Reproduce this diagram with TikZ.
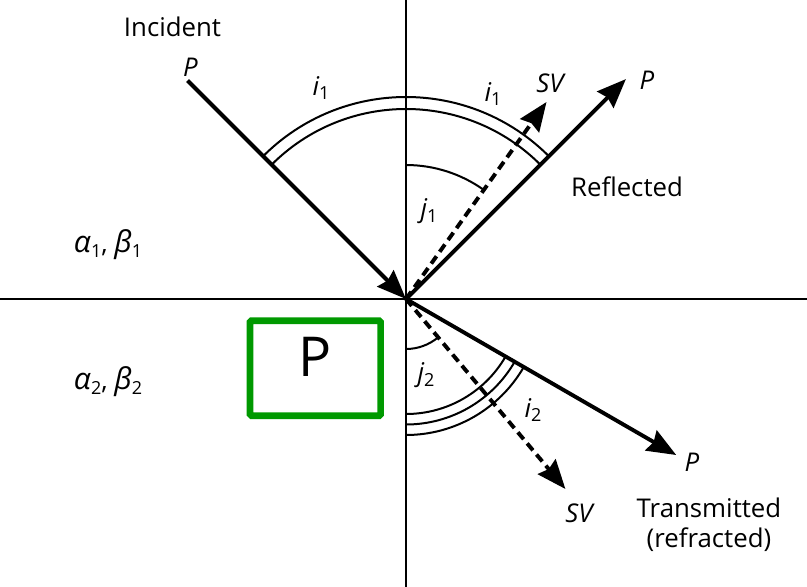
\documentclass[tikz,border=0pt]{standalone}
\usepackage{fontspec}
\setmainfont{Open Sans}
\usetikzlibrary{arrows.meta}
\definecolor{boxgreen}{RGB}{0,153,0}
\newcommand\lowidx[1]{\raisebox{-0.35ex}{\fontsize{18}{18}\selectfont #1}}
\newcommand\grk[1]{{\fontsize{30}{30}\selectfont\itshape #1}}
\begin{document}
\begin{tikzpicture}[x=1pt,y=1pt,
  axisline/.style={line width=1.8pt},
  ray/.style={line width=3.9pt,-{Stealth[length=29pt,width=23pt,inset=3pt]}},
  sray/.style={ray,dash pattern=on 9pt off 5.5pt},
  arcline/.style={line width=2pt},
  lbl/.style={font=\fontsize{25.8}{30}\selectfont, inner sep=0pt},
]
\useasboundingbox (0,0) rectangle (807,-587);

% axes
\coordinate (O) at (406,-299);
\coordinate (top) at (406,0);
\coordinate (bot) at (406,-587);
\coordinate (left) at (0,-299);
\coordinate (right) at (807,-299);
\draw[axisline] (top) -- (bot);
\draw[axisline] (left) -- (right);

% ray end points
\path (O) ++(135:309) coordinate (incS);
\path (O) ++(45:311) coordinate (refP);
\path (O) ++(54.5:242) coordinate (refSV);
\path (O) ++(-30:312) coordinate (trP);
\path (O) ++(-50:248) coordinate (trSV);

% arcs
\draw[arcline] (O) ++(45:190) arc (45:135:190);
\draw[arcline] (O) ++(45:202) arc (45:135:202);
\draw[arcline] (O) ++(90:134) arc (90:54.5:134);
\draw[arcline] (O) ++(-90:115) arc (-90:-30:115);
\draw[arcline] (O) ++(-90:125.5) arc (-90:-30:125.5);
\draw[arcline] (O) ++(-90:136) arc (-90:-30:136);
\draw[arcline] (O) ++(-90:50) arc (-90:-50:50);

% rays
\draw[ray] (incS) -- (O);
\draw[ray] (O) -- (refP);
\draw[sray] (O) -- (refSV);
\draw[ray] (O) -- (trP);
\draw[sray] (O) -- (trSV);

% green box
\node[draw=boxgreen, line width=6.6pt, rounded corners=1.5pt, minimum width=130.7pt, minimum height=95pt, inner sep=0pt] (pbox) at (315.3,-368.2) {};
\node[font=\fontsize{55}{55}\selectfont, inner sep=0pt] (ptext) at (315,-357) {P};

% labels
\node[lbl] (lincident) at (172.5,-27) {Incident};
\node[lbl] (lincP) at (190.5,-67) {\itshape P};
\node[lbl] (li1a) at (321,-88) {{\itshape i}\lowidx{1}};
\node[lbl] (li1b) at (493,-94) {{\itshape i}\lowidx{1}};
\node[lbl] (lsv1) at (550,-83) {\itshape SV};
\node[lbl] (lrefP) at (647,-80) {\itshape P};
\node[lbl] (lrefl) at (627,-187) {Reflected};
\node[lbl] (lj1) at (429,-211) {{\itshape j}\lowidx{1}};
\node[lbl] (lab1) at (108,-245) {\grk{α}\lowidx{1}, \grk{β}\lowidx{1}};
\node[lbl] (lab2) at (108,-382) {\grk{α}\lowidx{2}, \grk{β}\lowidx{2}};
\node[lbl] (lj2) at (426,-375) {{\itshape j}\lowidx{2}};
\node[lbl] (li2) at (533,-410) {{\itshape i}\lowidx{2}};
\node[lbl] (ltrP) at (692,-462) {\itshape P};
\node[lbl] (lsv2) at (579,-513) {\itshape SV};
\node[lbl, align=center] (ltrans) at (709,-525) {Transmitted\\(refracted)};
\end{tikzpicture}
\end{document}
